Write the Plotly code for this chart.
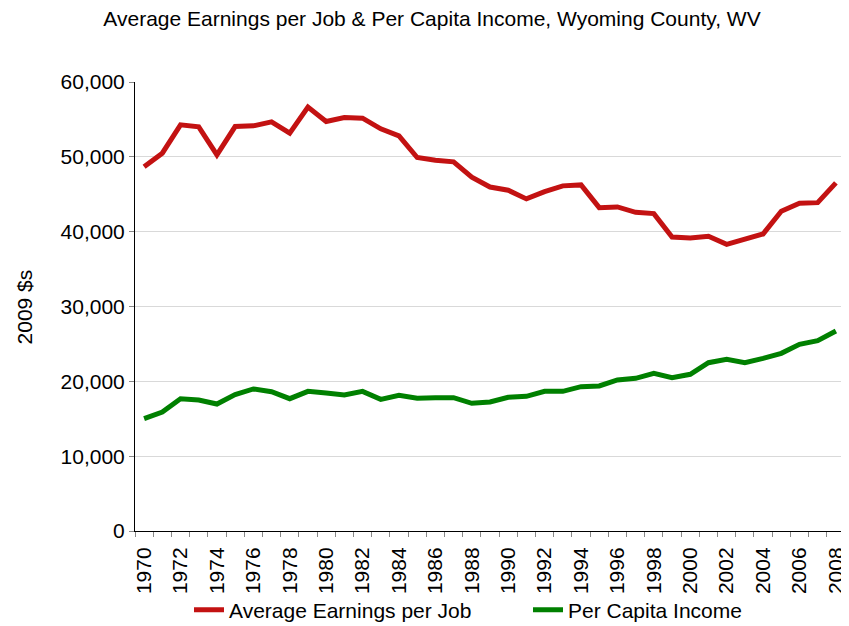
import plotly.graph_objects as go

years = list(range(1970, 2009))
avg_earnings = [48660, 50490, 54280, 54010, 50270, 54050, 54140, 54680, 53160, 56640,
                54720, 55260, 55170, 53740, 52800, 49910, 49550, 49330, 47280, 45960,
                45540, 44380, 45360, 46120, 46250, 43210, 43300, 42590, 42410, 39290,
                39150, 39380, 38300, 39020, 39690, 42720, 43790, 43880, 46520]
per_capita = [15010, 15900, 17680, 17510, 16970, 18220, 18980, 18620, 17680, 18660,
              18440, 18170, 18660, 17590, 18130, 17730, 17820, 17820, 17060, 17240,
              17860, 18000, 18660, 18660, 19290, 19380, 20180, 20400, 21070, 20490,
              20940, 22490, 22940, 22490, 23070, 23740, 24940, 25430, 26730]
label_years = years[::2]
y_ticks = [0, 10000, 20000, 30000, 40000, 50000, 60000]

FONT = "Liberation Sans, Arial, sans-serif"
FS = 21
# the page body adds an 8px offset; the figure is sized to fill the rest of the window
W, H = 841, 618

fig = go.Figure()
fig.add_trace(go.Scatter(x=years, y=avg_earnings, mode="lines",
                         name="Average Earnings per Job",
                         line=dict(color="#C31212", width=5)))
fig.add_trace(go.Scatter(x=years, y=per_capita, mode="lines",
                         name="Per Capita Income",
                         line=dict(color="#008000", width=5)))

fig.update_layout(
    width=W, height=H,
    margin=dict(l=127, r=4, t=74, b=95, autoexpand=False),
    paper_bgcolor="white", plot_bgcolor="white",
    font=dict(family=FONT, size=FS, color="black"),
    title=dict(text="Average Earnings per Job & Per Capita Income, Wyoming County, WV",
               x=424 / W, xref="container", xanchor="center",
               y=1 - 3 / H, yref="container", yanchor="top", pad=dict(t=0, b=0),
               font=dict(family=FONT, size=FS, color="black")),
    showlegend=True,
    legend=dict(orientation="h", x=181 / W, xref="container", xanchor="left",
                y=-0.176, yanchor="middle",
                font=dict(family=FONT, size=FS, color="black"),
                bgcolor="rgba(0,0,0,0)", entrywidth=294, entrywidthmode="pixels"),
    annotations=[dict(text="2009 $s", textangle=-90, xref="paper", yref="paper",
                      x=-0.155, y=0.5, xanchor="center", yanchor="middle",
                      showarrow=False, font=dict(family=FONT, size=FS, color="black"))],
)

fig.update_xaxes(
    range=[1969.5, 2008.5],
    tickmode="array", tickvals=label_years, ticktext=[str(y) for y in label_years],
    tickangle=-90, ticks="outside", ticklen=5, tickcolor="rgba(0,0,0,0)",
    ticklabelstandoff=2,
    showgrid=False, zeroline=False, automargin=False,
    showline=True, linecolor="black", linewidth=1,
    minor=dict(tickmode="array", tickvals=[y - 0.5 for y in years] + [years[-1] + 0.5],
               ticks="outside", ticklen=5, tickcolor="#888888", showgrid=False),
    tickfont=dict(family=FONT, size=FS, color="black"),
)
fig.update_yaxes(
    range=[0, 60000],
    tickmode="array", tickvals=y_ticks, tickformat=",",
    ticks="outside", ticklen=5, tickcolor="#888888",
    showgrid=True, gridcolor="#D9D9D9", gridwidth=1,
    zeroline=False, showline=True, linecolor="black", linewidth=1, automargin=False,
    tickfont=dict(family=FONT, size=FS, color="black"),
)

fig.write_html("out.html")
